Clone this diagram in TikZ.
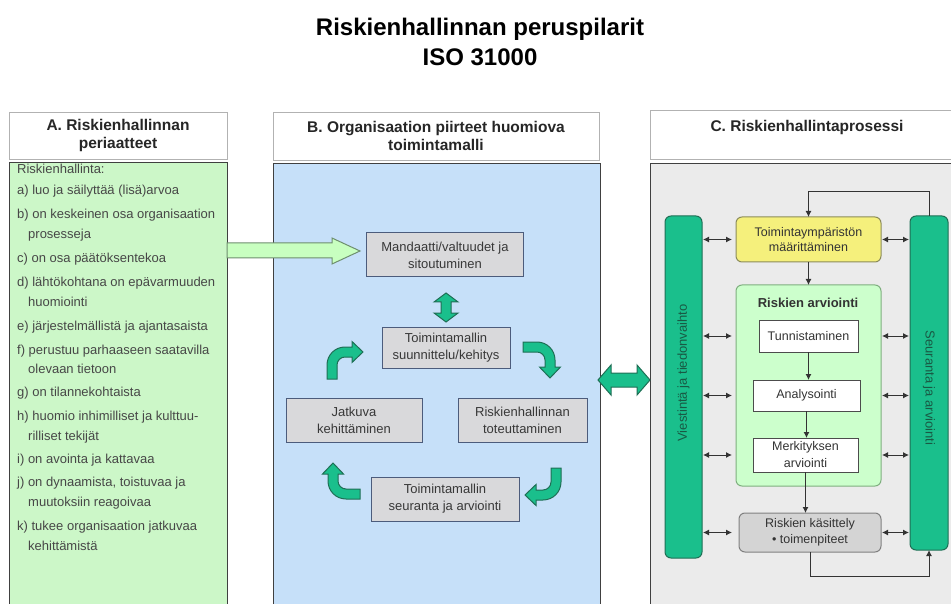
\documentclass[tikz,border=0pt]{standalone}
\usepackage{fontspec}
\setmainfont{Liberation Sans}
\usetikzlibrary{calc}
\usetikzlibrary{arrows.meta}

\definecolor{paneA}{HTML}{CCF7C8}
\definecolor{paneB}{HTML}{C6E0F9}
\definecolor{paneC}{HTML}{EBEBEB}
\definecolor{tealfill}{HTML}{1ABF8C}
\definecolor{tealdraw}{HTML}{1F6F55}
\definecolor{bgray}{HTML}{D9D9DB}
\definecolor{bline}{HTML}{4C5C7C}
\definecolor{yfill}{HTML}{F5F07C}
\definecolor{yline}{HTML}{8C8C5A}
\definecolor{gfill}{HTML}{CCFFCC}
\definecolor{gline}{HTML}{7FAF7F}
\definecolor{arrfill}{HTML}{C8FFC0}
\definecolor{arrline}{HTML}{6E8E6E}

\tikzset{
  ttl/.style={anchor=base, inner sep=0, font=\fontsize{24}{29}\selectfont\bfseries},
  hbox/.style={draw=black!30, fill=white, line width=0.8pt, outer sep=0, align=center, text=black!85, font=\fontsize{15.5}{18}\selectfont\bfseries},
  htxt/.style={inner sep=0, text=black!85, font=\fontsize{15.5}{18}\selectfont\bfseries},
  panel/.style={draw=black!75, line width=0.8pt, outer sep=0, anchor=north west},
  listtxt/.style={anchor=west, inner sep=0, text height=9.5pt, text depth=2.5pt, text=black!72, font=\fontsize{13}{15}\selectfont},
  bbox/.style={draw=bline, fill=bgray, line width=1pt, outer sep=0, inner sep=0, align=center, text=black!78, font=\fontsize{13}{17}\selectfont},
  bar/.style={draw=tealdraw, fill=tealfill, line width=1pt, rounded corners=6pt, outer sep=0},
  bartxt/.style={inner sep=0, text=tealdraw!80!black, font=\fontsize{13}{15}\selectfont},
  cbox/.style={line width=1pt, outer sep=0, inner sep=0, align=center, text=black!80, font=\fontsize{12.5}{15}\selectfont},
  ybox/.style={cbox, draw=yline, fill=yfill, rounded corners=6pt},
  gbox/.style={cbox, draw=gline, fill=gfill, rounded corners=6pt},
  wbox/.style={cbox, draw=black!70, fill=white, font=\fontsize{12.5}{17}\selectfont},
  kbox/.style={cbox, draw=black!50, fill=black!17, rounded corners=6pt, font=\fontsize{12.5}{16}\selectfont},
  tealarr/.style={draw=tealdraw, fill=tealfill, line width=1pt},
  bigarr/.style={draw=arrline, fill=arrfill, line width=1pt},
  conn/.style={line width=1pt, black!80}
}

\begin{document}
\begin{tikzpicture}[x=1pt, y=-1pt, >={Latex[length=6pt,width=6pt]}]
\useasboundingbox (0,0) rectangle (951,604);
\clip (0,0) rectangle (951,604);

\node[ttl] (t1) at (480,36) {Riskienhallinnan peruspilarit};
\node[ttl] (t2) at (480,66) {ISO 31000};

% otsikot ja paneelit
\node[hbox, minimum width=218pt, minimum height=47pt] (ha) at (118,135.5) {A. Riskienhallinnan\\periaatteet};
\node[hbox, minimum width=326pt, minimum height=48pt] (hb) at (436,136) {B. Organisaation piirteet huomiova\\toimintamalli};
\node[hbox, minimum width=316pt, minimum height=49pt] (hc) at (808,134.5) {};
\node[htxt] (hct) at (807,127) {C. Riskienhallintaprosessi};

\node[panel, fill=paneA, minimum width=218pt, minimum height=460pt] (pa) at (9,162) {};
\node[panel, fill=paneB, minimum width=327pt, minimum height=460pt] (pb) at (273,163) {};
\node[panel, fill=paneC, minimum width=316pt, minimum height=460pt] (pc) at (650,163) {};

% A
\foreach \x/\y/\t in {17/170/Riskienhallinta:, 17/191/a) luo ja säilyttää (lisä)arvoa,
  17/215/b) on keskeinen osa organisaation, 28/235/prosesseja,
  17/259/c) on osa päätöksentekoa, 17/283/d) lähtökohtana on epävarmuuden, 28/303/huomiointi,
  17/327/e) järjestelmällistä ja ajantasaista, 17/351/f) perustuu parhaaseen saatavilla,
  28/370/olevaan tietoon, 17/393/g) on tilannekohtaista, 17/417/h) huomio inhimilliset ja kulttuu-,
  28/437/rilliset tekijät, 17/460/i) on avointa ja kattavaa, 17/483/{j) on dynaamista, toistuvaa ja},
  28/503/muutoksiin reagoivaa, 17/527/k) tukee organisaation jatkuvaa, 28/547/kehittämistä}
  \node[listtxt] (l\y) at (\x,\y) {\t};

\filldraw[bigarr] (227,243) -- (332,243) -- (332,238) -- (360,251) -- (332,264) -- (332,258) -- (227,258) -- cycle;

% B
\node[bbox, minimum width=157pt, minimum height=44pt] (man) at (445,255) {Mandaatti/valtuudet ja\\sitoutuminen};
\node[bbox, minimum width=128pt, minimum height=41pt] (tmk) at (446,347.5) {Toimintamallin\\suunnittelu/kehitys};
\node[bbox, minimum width=136pt, minimum height=44pt] (jat) at (354,420) {Jatkuva\\kehittäminen};
\node[bbox, minimum width=129pt, minimum height=44pt] (tot) at (522.5,420) {Riskienhallinnan\\toteuttaminen};
\node[bbox, minimum width=148pt, minimum height=44pt] (seu) at (445,499) {Toimintamallin\\seuranta ja arviointi};

\filldraw[tealarr] (446,293) -- (458,302) -- (451,302) -- (451,313) -- (458,313) -- (446,322)
  -- (434,313) -- (441,313) -- (441,302) -- (434,302) -- cycle;
\foreach \x/\y/\r in {332/379/0, 523/347/-90, 556/468/180, 360/494/90}
  \filldraw[tealarr, shift={(\x,\y)}, rotate=\r] (-5,0) -- (-5,-14) .. controls (-5,-24) and (3,-32) .. (13,-32)
    -- (20,-32) -- (20,-37.5) -- (31,-27) -- (20,-16.5) -- (20,-22) -- (13,-22)
    .. controls (8.6,-22) and (5,-18.4) .. (5,-14) -- (5,0) -- cycle;

\filldraw[tealarr] (598,380) -- (611,365) -- (611,373) -- (637,373) -- (637,365) -- (650,380)
  -- (637,395) -- (637,387) -- (611,387) -- (611,395) -- cycle;

% C
\node[bar, minimum width=37pt, minimum height=342pt] (vb) at (683.5,387) {};
\node[bar, minimum width=38pt, minimum height=334pt] (sa) at (929,383) {};
\node[bartxt, rotate=90] (vbt) at (683.5,373) {Viestintä ja tiedonvaihto};
\node[bartxt, rotate=-90] (sat) at (929,388) {Seuranta ja arviointi};

\node[ybox, minimum width=145pt, minimum height=45pt] (ty) at (808.5,239.5) {Toimintaympäristön\\määrittäminen};
\node[gbox, minimum width=145pt, minimum height=201pt] (ra) at (808.5,385.5) {};
\node[cbox, font=\fontsize{13}{15}\selectfont\bfseries] (rat) at (808,303) {Riskien arviointi};
\node[wbox, minimum width=99pt, minimum height=32pt] (tun) at (808.5,336) {Tunnistaminen};
\node[wbox, minimum width=107pt, minimum height=31pt] (an) at (806.5,395.5) {Analysointi};
\node[wbox, minimum width=105pt, minimum height=34pt] (mer) at (805.5,455) {Merkityksen\\arviointi};
\node[kbox, minimum width=142pt, minimum height=39pt] (kas) at (810,532.5) {Riskien käsittely\\• toimenpiteet};

\draw[conn, ->] (ty.south) -- (ra.north);
\draw[conn, ->] (tun.south) -- (tun.south |- an.north);
\draw[conn, ->] (an.south) -- (an.south |- mer.north);
\draw[conn, ->] (mer.south) -- (mer.south |- kas.north);
\draw[conn, ->] (sa.north) -- ++(0,-24) -| (ty.north);
\draw[conn, ->] (kas.south) -- ++(0,24) -| (sa.south);

\foreach \n in {ty,tun,an,mer,kas} {
  \draw[conn, <->, shorten <=1pt, shorten >=4pt] (vb.east |- \n) -- (ra.west |- \n);
  \draw[conn, <->, shorten <=1pt, shorten >=1pt] (ra.east |- \n) -- (sa.west |- \n);
}
\end{tikzpicture}
\end{document}
